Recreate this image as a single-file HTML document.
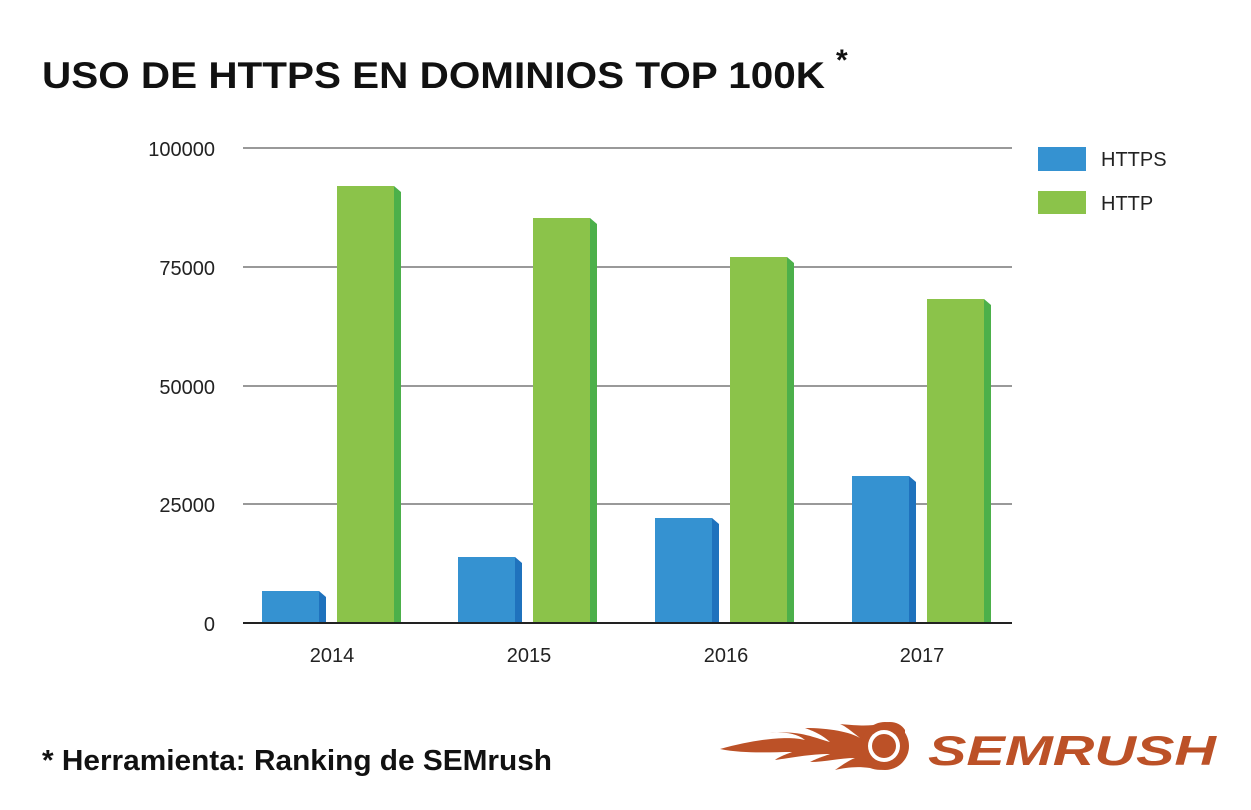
<!DOCTYPE html>
<html><head><meta charset="utf-8"><style>
body{margin:0;background:#fff;}
svg{display:block;}
</style></head><body>
<svg width="1251" height="810" viewBox="0 0 1251 810" xmlns="http://www.w3.org/2000/svg" font-family="Liberation Sans, sans-serif">
<rect width="1251" height="810" fill="#fff"/>
<text x="42" y="88" font-size="37" font-weight="bold" fill="#111" textLength="783" lengthAdjust="spacingAndGlyphs">USO DE HTTPS EN DOMINIOS TOP 100K</text>
<text x="836" y="70" font-size="30" font-weight="bold" fill="#111">*</text>
<g stroke="#999" stroke-width="2">
<line x1="243" y1="148" x2="1012" y2="148"/>
<line x1="243" y1="267" x2="1012" y2="267"/>
<line x1="243" y1="386" x2="1012" y2="386"/>
<line x1="243" y1="504" x2="1012" y2="504"/>
</g>
<g font-size="20" fill="#222" text-anchor="end">
<text x="215" y="156">100000</text>
<text x="215" y="275">75000</text>
<text x="215" y="394">50000</text>
<text x="215" y="512">25000</text>
<text x="215" y="631">0</text>
</g>
<g id="bars">
<!-- HTTPS -->
<g fill="#3592d1"><rect x="262" y="591" width="57" height="32"/><rect x="458" y="557" width="57" height="66"/><rect x="655" y="518" width="57" height="105"/><rect x="852" y="476" width="57" height="147"/></g>
<g fill="#1f72bd"><polygon points="319,591 326,597 326,623 319,623"/><polygon points="515,557 522,563 522,623 515,623"/><polygon points="712,518 719,524 719,623 712,623"/><polygon points="909,476 916,482 916,623 909,623"/></g>
<!-- HTTP -->
<g fill="#8bc34a"><rect x="337" y="186" width="57" height="437"/><rect x="533" y="218" width="57" height="405"/><rect x="730" y="257" width="57" height="366"/><rect x="927" y="299" width="57" height="324"/></g>
<g fill="#4cb04a"><polygon points="394,186 401,192 401,623 394,623"/><polygon points="590,218 597,224 597,623 590,623"/><polygon points="787,257 794,263 794,623 787,623"/><polygon points="984,299 991,305 991,623 984,623"/></g>
</g>
<line x1="243" y1="623" x2="1012" y2="623" stroke="#222" stroke-width="2"/>
<g font-size="20" fill="#222" text-anchor="middle">
<text x="332" y="662">2014</text><text x="529" y="662">2015</text><text x="726" y="662">2016</text><text x="922" y="662">2017</text>
</g>
<rect x="1038" y="147" width="48" height="24" fill="#3592d1"/>
<rect x="1038" y="191" width="48" height="23" fill="#8bc34a"/>
<text x="1101" y="166" font-size="20" fill="#222">HTTPS</text>
<text x="1101" y="210" font-size="20" fill="#222">HTTP</text>
<text x="42" y="770" font-size="29" font-weight="bold" fill="#111" textLength="510" lengthAdjust="spacingAndGlyphs">* Herramienta: Ranking de SEMrush</text>
<g fill="#bc5127">
<path d="M720,749 C760,738 790,736 805,740 C795,732 780,732 770,733 C800,730 815,738 830,742 C820,733 810,730 805,728 C830,728 850,732 860,738 C850,730 845,726 840,724 C860,726 870,726 880,724 C890,720 900,722 905,730 L905,758 C895,770 880,772 870,768 C855,766 845,768 835,770 C845,763 850,760 855,758 C840,758 825,762 810,762 C820,757 825,756 830,754 C810,754 790,758 775,760 C780,756 790,753 792,752 C770,752 745,754 720,749 Z"/>
<circle cx="885" cy="746" r="24"/>
</g>
<circle cx="884" cy="746" r="16" fill="#fff"/>
<circle cx="884" cy="746" r="12" fill="#bc5127"/>
<text x="928" y="765" font-size="42" font-weight="bold" font-style="italic" fill="#bc5127" textLength="288" lengthAdjust="spacingAndGlyphs">SEMRUSH</text>
</svg>
</body></html>
